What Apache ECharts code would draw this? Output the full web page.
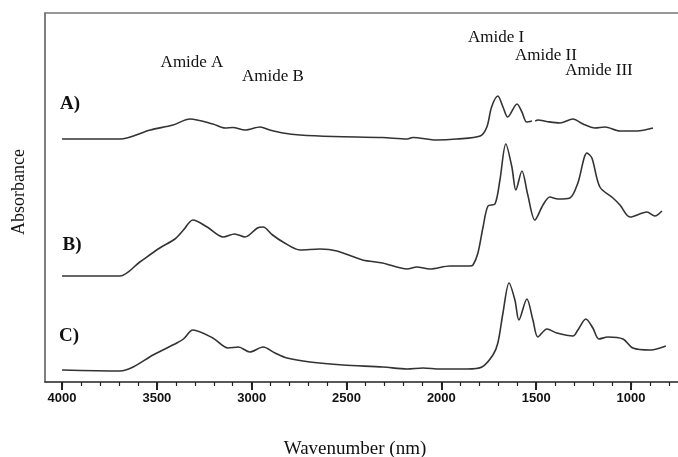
<!DOCTYPE html>
<html>
<head>
<meta charset="utf-8">
<script src="https://cdn.jsdelivr.net/npm/echarts@6/dist/echarts.min.js"></script>
<style>
  html, body { margin: 0; padding: 0; background: #fff; }
  #chart { width: 678px; height: 457px; }
</style>
</head>
<body>
<div id="chart"></div>
<script>
// spectra (wavenumber, absorbance in arbitrary offset units)
var waveA = [4000, 3695, 3535, 3415, 3325, 3205, 3140, 3100, 3035, 2955, 2905, 2835, 2745, 2570, 2310, 2180, 2150, 2025, 1920, 1795, 1760, 1735, 1702, 1675, 1650, 1601, 1575, 1550, 1522, 1513, 1505, 1490, 1445, 1375, 1306, 1253, 1190, 1137, 1058, 968, 884];
var absA  = [243, 243, 252, 257, 263, 258, 254, 254.5, 252, 255, 252, 249, 247, 245.5, 244.5, 243, 244.5, 242, 243, 246, 255, 275, 286, 275, 265, 278, 270, 260, 261, null, 261, 262, 260.5, 259, 263, 258, 254, 255, 251, 251, 254];

var waveB = [4000, 3695, 3590, 3485, 3405, 3360, 3310, 3235, 3150, 3090, 3035, 2970, 2940, 2890, 2835, 2745, 2640, 2550, 2415, 2310, 2180, 2130, 2060, 1955, 1850, 1833, 1807, 1780, 1754, 1717, 1691, 1660, 1628, 1607, 1575, 1544, 1507, 1464, 1428, 1385, 1322, 1280, 1232, 1206, 1164, 1095, 1058, 1005, 916, 874, 837];
var absB  = [106, 106, 120, 134, 143, 152, 162, 155, 145, 148, 145, 154, 155, 147, 140, 132, 133, 131, 122, 119, 113, 115, 113, 116, 116, 117, 129, 155, 176, 178, 202, 238, 215, 192, 211, 187, 162, 177, 185, 183, 184, 199, 229, 224, 195, 184, 177, 165, 170, 166, 171];

var waveC = [4000, 3695, 3625, 3520, 3395, 3360, 3310, 3205, 3125, 3070, 3010, 2940, 2877, 2814, 2693, 2519, 2308, 2181, 2097, 2007, 1865, 1786, 1728, 1702, 1675, 1643, 1612, 1591, 1549, 1517, 1491, 1443, 1391, 1306, 1280, 1238, 1201, 1169, 1122, 1042, 990, 900, 847, 816];
var absC  = [12, 11, 15, 27, 39, 43, 52, 44, 34, 35, 30, 35, 29, 24, 20, 17, 15, 13, 14, 13, 13, 15, 27, 39, 69, 99, 82, 62, 83, 62, 45, 53, 49, 46, 52, 63, 54, 43, 45, 43, 34, 32, 34, 36];

var majorTicks = [4000, 3500, 3000, 2500, 2000, 1500, 1000];
var minorTicks = [];
for (var t = 4000; t >= 800; t -= 100) minorTicks.push(t);

var bandLabels = [
  { text: 'Amide A',   x: 192, y: 63 },
  { text: 'Amide B',   x: 273, y: 77 },
  { text: 'Amide I',   x: 496, y: 38 },
  { text: 'Amide II',  x: 546, y: 56 },
  { text: 'Amide III', x: 599, y: 71 }
];
var sampleLabels = [
  { text: 'A)', x: 70, y: 104 },
  { text: 'B)', x: 72, y: 245 },
  { text: 'C)', x: 69, y: 336 }
];

function pairs(w, a) {
  return w.map(function (v, i) { return [v, a[i]]; });
}

var chart = echarts.init(document.getElementById('chart'));

var graphics = [];
bandLabels.forEach(function (l) {
  graphics.push({
    type: 'text', x: l.x, y: l.y,
    style: { text: l.text, fill: '#111', font: '17px "Liberation Serif"', align: 'center', verticalAlign: 'middle' }
  });
});
sampleLabels.forEach(function (l) {
  graphics.push({
    type: 'text', x: l.x, y: l.y,
    style: { text: l.text, fill: '#111', font: 'bold 19px "Liberation Serif"', align: 'center', verticalAlign: 'middle' }
  });
});
graphics.push({
  type: 'text', x: 355, y: 449,
  style: { text: 'Wavenumber (nm)', fill: '#111', font: '19px "Liberation Serif"', align: 'center', verticalAlign: 'middle' }
});
graphics.push({
  type: 'text', x: 19, y: 192, rotation: Math.PI / 2,
  style: { text: 'Absorbance', fill: '#111', font: '18px "Liberation Serif"', align: 'center', verticalAlign: 'middle' }
});

var lineStyle = { color: '#333', width: 1.6 };

var option = {
  animation: false,
  backgroundColor: '#fff',
  grid: { left: 45, top: 13, right: 0, bottom: 75 },
  xAxis: [
    {
      type: 'value', inverse: true, min: 752, max: 4090, position: 'bottom',
      axisLine: { lineStyle: { color: '#222', width: 1.5 } },
      axisTick: { customValues: majorTicks, length: 8, lineStyle: { color: '#222', width: 2 } },
      axisLabel: {
        customValues: majorTicks, margin: 10, color: '#111', fontSize: 13, fontWeight: 'bold',
        fontFamily: '"Liberation Sans", Arial, sans-serif',
        formatter: function (v) { return String(v); }
      },
      splitLine: { show: false }
    },
    {
      type: 'value', inverse: true, min: 752, max: 4090, position: 'bottom',
      axisLine: { show: false },
      axisTick: { customValues: minorTicks, length: 4, lineStyle: { color: '#222', width: 1.2 } },
      axisLabel: { show: false },
      splitLine: { show: false }
    },
    {
      type: 'value', inverse: true, min: 752, max: 4090, position: 'top',
      axisLine: { lineStyle: { color: '#777', width: 1.5 } },
      axisTick: { show: false },
      axisLabel: { show: false },
      splitLine: { show: false }
    }
  ],
  yAxis: {
    type: 'value', min: 0, max: 369,
    axisLine: { show: true, lineStyle: { color: '#555', width: 1.5 } },
    axisTick: { show: false },
    axisLabel: { show: false },
    splitLine: { show: false }
  },
  series: [
    { name: 'A', type: 'line', data: pairs(waveA, absA), showSymbol: false, smooth: 0.3, lineStyle: lineStyle },
    { name: 'B', type: 'line', data: pairs(waveB, absB), showSymbol: false, smooth: 0.3, lineStyle: lineStyle },
    { name: 'C', type: 'line', data: pairs(waveC, absC), showSymbol: false, smooth: 0.3, lineStyle: lineStyle }
  ],
  graphic: graphics
};

chart.setOption(option);
</script>
</body>
</html>
